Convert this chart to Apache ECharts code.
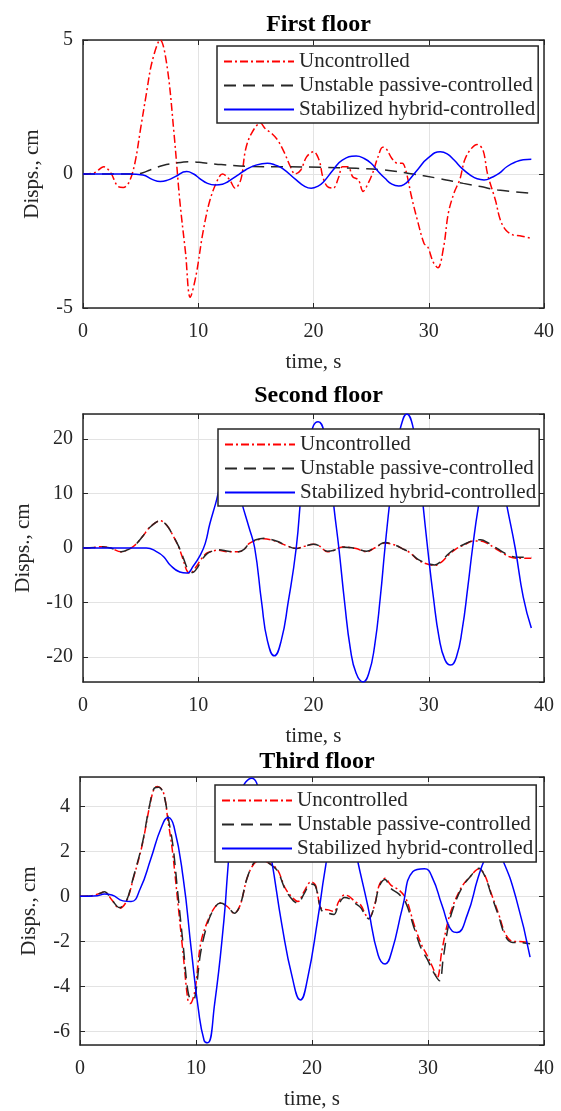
<!DOCTYPE html>
<html>
<head>
<meta charset="utf-8">
<script src="https://cdn.jsdelivr.net/npm/echarts@6/dist/echarts.min.js"></script>
<style>
html,body{margin:0;padding:0;background:#fff;}
#chart{width:561px;height:1111px;}
</style>
</head>
<body>
<div id="chart"></div>
<script>
// ---------- labels ----------
const panelTitles = ['First floor', 'Second floor', 'Third floor'];
const seriesNames = ['Uncontrolled', 'Unstable passive-controlled', 'Stabilized hybrid-controlled'];
const xAxisName = 'time, s';
const yAxisName = 'Disps., cm';
const xTicks = [0, 10, 20, 30, 40];
const yRanges = [[-5, 5], [-24.6, 24.6], [-6.6, 5.3]];

// ---------- First floor [time s, displacement cm] ----------
const f1Uncontrolled = [[0,0],[1,0.05],[1.8,0.27],[2.4,0.05],[3,-0.45],[3.5,-0.5],[4,-0.3],[4.5,0.4],[5,1.7],[5.5,3.0],[6,4.2],[6.7,5.0],[7.3,4.0],[7.9,1.5],[8.4,-1.0],[8.9,-2.95],[9.3,-4.6],[9.8,-3.8],[10.4,-2.2],[11,-1],[11.7,-0.2],[12.1,0],[12.7,-0.2],[13.2,-0.53],[13.7,-0.2],[14.1,0.9],[14.6,1.5],[15.4,1.9],[15.8,1.7],[16.4,1.5],[16.9,1.26],[17.5,0.77],[18,0.27],[18.4,0],[18.9,0.15],[19.4,0.64],[20,0.83],[20.5,0.5],[20.8,-0.1],[21.2,-0.47],[21.7,-0.53],[22.2,-0.1],[22.5,0.27],[23,0.27],[23.4,-0.1],[23.9,-0.22],[24.3,-0.65],[24.6,-0.47],[25.1,0],[25.6,0.64],[26,1.0],[26.3,0.95],[26.8,0.58],[27.3,0.4],[27.7,0.4],[28,0.15],[28.5,-0.84],[29,-1.7],[29.6,-2.6],[29.9,-2.7],[30.4,-3.3],[30.8,-3.5],[31.3,-2.7],[31.7,-1.46],[32.2,-0.7],[32.7,-0.2],[33.1,0.5],[33.6,0.9],[34.2,1.1],[34.7,0.9],[35.1,0],[35.8,-1],[36.2,-1.7],[36.7,-2.1],[37.3,-2.27],[37.9,-2.3],[38.9,-2.4]];
const f1Passive = [[0,0],[4.5,0],[5.2,0.05],[5.8,0.15],[7,0.33],[7.9,0.4],[9.2,0.46],[10.4,0.42],[12,0.35],[14.4,0.28],[17.5,0.27],[20.6,0.25],[23.7,0.21],[26.2,0.15],[28.3,0.02],[30.8,-0.16],[33,-0.35],[34.5,-0.47],[36,-0.6],[38.9,-0.72]];
const f1Hybrid = [[0,0],[4,0],[5.2,-0.04],[6,-0.2],[6.7,-0.28],[7.4,-0.22],[8,-0.1],[9,0.09],[9.6,0],[10.1,-0.16],[10.8,-0.35],[11.5,-0.41],[12.1,-0.38],[12.6,-0.28],[13.4,-0.05],[14.1,0.15],[15,0.33],[16,0.4],[16.7,0.33],[17.3,0.21],[18.5,-0.22],[19.2,-0.45],[19.8,-0.53],[20.4,-0.45],[20.9,-0.28],[21.7,0.15],[22.5,0.52],[23.7,0.67],[24.4,0.58],[25,0.4],[25.6,0.1],[26.2,-0.16],[26.8,-0.38],[27.4,-0.45],[27.9,-0.38],[28.3,-0.22],[29.1,0.2],[29.9,0.58],[31,0.83],[31.6,0.75],[32.2,0.52],[32.9,0.2],[33.6,-0.04],[34.2,-0.18],[34.8,-0.22],[35.5,-0.12],[36.1,0.02],[36.8,0.28],[37.6,0.46],[38.2,0.53],[38.9,0.55]];

// ---------- Second floor ----------
const f2Uncontrolled = [[0,0],[1,0.1],[1.6,0.25],[2.4,0],[3.3,-0.7],[4,-0.2],[4.5,0.5],[5.2,2.2],[5.8,3.8],[6.7,5.0],[7.3,4.1],[7.8,2.3],[8.3,0.2],[8.7,-2.2],[9,-4.1],[9.3,-4.7],[9.8,-3.5],[10.2,-2.2],[10.7,-1],[11.2,-0.6],[11.7,-0.4],[12.6,-0.7],[13.5,-0.7],[14,-0.2],[14.4,0.8],[15,1.4],[15.7,1.7],[16.3,1.5],[16.9,1.1],[17.7,0.4],[18.5,-0.1],[19.2,0.3],[20,0.7],[20.5,0.4],[21.2,-0.7],[21.8,-0.4],[22.5,0.2],[23.1,0.1],[23.7,-0.1],[24.6,-0.7],[25.3,0],[26.2,0.9],[27,0.6],[27.7,-0.1],[28.4,-0.9],[29,-2.1],[29.8,-2.9],[30.5,-3.2],[31.1,-2.6],[31.7,-1.3],[32.4,-0.1],[33,0.5],[33.9,1.3],[34.5,1.3],[35.2,0.7],[35.8,-0.1],[36.4,-0.9],[37,-1.6],[37.8,-1.9],[38.9,-1.9]];
const f2Passive = [[0,0],[1,0.1],[1.6,0.25],[2.4,0],[3.3,-0.7],[4,-0.2],[4.5,0.5],[5.2,2.2],[5.8,3.8],[6.7,5.0],[7.3,4.1],[7.8,2.3],[8.3,0.3],[8.7,-1.8],[9.1,-3.9],[9.5,-4.5],[9.9,-3.7],[10.3,-2.2],[10.8,-1],[11.3,-0.5],[11.8,-0.3],[12.6,-0.6],[13.5,-0.7],[14,-0.2],[14.4,0.8],[15,1.5],[15.7,1.8],[16.3,1.6],[16.9,1.2],[17.7,0.4],[18.5,-0.1],[19.2,0.3],[20,0.7],[20.5,0.4],[21.2,-0.6],[21.8,-0.4],[22.5,0.2],[23.1,0.1],[23.7,-0.1],[24.6,-0.6],[25.3,0],[26.2,1.0],[27,0.6],[27.7,-0.1],[28.4,-0.9],[29,-2.0],[29.8,-2.8],[30.5,-3.1],[31.1,-2.4],[31.7,-1.1],[32.4,0],[33,0.6],[33.9,1.4],[34.5,1.5],[35.2,0.9],[35.8,0.1],[36.4,-0.7],[37,-1.4],[37.8,-1.7],[38.9,-1.7]];
const f2Hybrid = [[0,0],[5.5,0],[6.4,-0.7],[7,-1.6],[7.6,-3.2],[8.4,-4.4],[9,-4.6],[9.6,-3.2],[10.1,-1.6],[10.6,0.8],[11,4.4],[11.5,8.1],[12.1,12.5],[12.7,14],[13.3,12],[13.8,8.1],[14.4,3.8],[14.9,0],[15.5,-10],[16,-17],[16.6,-19.8],[17.2,-17],[17.8,-10],[18.5,0],[19,11.5],[19.5,19],[20,22.5],[20.4,23.2],[20.9,21.5],[21.4,15],[21.8,7],[22.2,0],[22.7,-10],[23.2,-18.5],[23.7,-23],[24.3,-24.6],[24.8,-23],[25.3,-18],[25.8,-9],[26.2,0],[26.7,10],[27.2,18.5],[27.6,22.5],[28.1,24.6],[28.6,22.5],[29.1,16],[29.5,8],[29.9,0],[30.4,-9],[30.9,-16.5],[31.4,-20.5],[31.9,-21.5],[32.4,-20],[32.9,-15],[33.4,-7],[33.8,0],[34.3,7.5],[34.8,13],[35.6,16],[36.3,13],[36.8,7.5],[37.5,0],[38.2,-9],[38.9,-14.7]];

// ---------- Third floor ----------
const f3Uncontrolled = [[0,0],[1,0.03],[1.7,0.13],[2.1,0.2],[2.75,-0.16],[3.4,-0.53],[4,-0.23],[4.6,0.8],[5.35,2.25],[6,4],[6.4,4.8],[6.7,4.88],[7.2,4.6],[7.6,3.3],[7.95,2.1],[8.4,-0.1],[8.9,-2.6],[9.3,-4.6],[9.5,-4.76],[9.9,-4.2],[10.4,-2.1],[11,-1.1],[11.6,-0.5],[12.1,-0.3],[12.7,-0.45],[13.3,-0.75],[13.8,-0.4],[14.4,0.8],[15,1.45],[15.6,1.6],[16.2,1.5],[17,1.2],[17.7,0.35],[18.4,-0.1],[18.8,-0.23],[19.3,0.2],[19.9,0.64],[20.3,0.5],[20.8,-0.53],[21.4,-0.6],[21.9,-0.67],[22.3,-0.23],[22.8,0.06],[23.2,0],[23.7,-0.23],[24.2,-0.38],[24.6,-0.8],[24.9,-0.96],[25.4,-0.38],[25.8,0.5],[26.3,0.8],[26.8,0.5],[27.5,0.28],[28.1,-0.1],[28.8,-1.25],[29.4,-2.1],[30,-2.7],[30.4,-3.15],[30.8,-3.6],[31.2,-2.4],[31.8,-0.96],[32.4,-0.1],[33,0.5],[33.6,0.86],[34.4,1.23],[34.9,0.93],[35.5,0.06],[36.1,-0.8],[36.7,-1.7],[37.3,-2],[37.9,-2],[38.8,-2.05]];
const f3Passive = [[0,0],[1,0.03],[1.7,0.13],[2.1,0.2],[2.75,-0.16],[3.4,-0.5],[4,-0.2],[4.6,0.85],[5.35,2.3],[6,4.05],[6.4,4.8],[6.8,4.85],[7.2,4.55],[7.6,3.5],[8,2.3],[8.4,0.3],[8.9,-2.2],[9.3,-4.2],[9.6,-4.6],[9.9,-4.5],[10.4,-2.5],[11,-1.2],[11.6,-0.5],[12.1,-0.3],[12.7,-0.45],[13.3,-0.75],[13.8,-0.4],[14.4,0.8],[15,1.5],[15.6,1.65],[16.2,1.5],[17,1.15],[17.7,0.3],[18.4,-0.2],[18.8,-0.3],[19.3,0.1],[19.9,0.55],[20.3,0.45],[20.8,-0.6],[21.4,-0.75],[21.9,-0.8],[22.3,-0.35],[22.8,-0.05],[23.2,-0.1],[23.7,-0.3],[24.2,-0.5],[24.6,-0.85],[24.9,-1.0],[25.4,-0.4],[25.8,0.45],[26.3,0.75],[26.8,0.35],[27.5,0.1],[28.1,-0.3],[28.8,-1.4],[29.4,-2.3],[30,-2.85],[30.4,-3.3],[31,-3.75],[31.3,-2.8],[31.8,-1.2],[32.4,-0.2],[33,0.45],[33.6,0.85],[34.4,1.25],[34.9,0.9],[35.5,0],[36.1,-0.9],[36.7,-1.8],[37.3,-2.05],[37.9,-2.05],[38.8,-2.1]];
const f3Hybrid = [[0,0],[1.5,0.03],[2.1,0.1],[2.75,0.06],[3.7,-0.2],[4.4,-0.23],[5.2,0.35],[6.1,1.66],[7,3.05],[7.6,3.5],[8.1,3.1],[8.9,0.8],[9.6,-2.4],[10.2,-5],[10.7,-6.4],[11,-6.5],[11.6,-4.8],[12.4,-1.1],[13,2.5],[13.8,4.6],[14.8,5.25],[15.7,3.8],[16.5,1.66],[17.4,-1.25],[18.3,-3.6],[19,-4.6],[19.6,-3.7],[20.5,-1],[21.1,1.1],[21.8,3.0],[22.6,3.9],[23.3,3.2],[23.9,1.66],[24.8,-0.4],[25.7,-2.6],[26.3,-3],[26.9,-2.4],[27.8,-0.5],[28.7,1.1],[29.7,1.23],[30.4,0.8],[31.2,-0.38],[32.1,-1.55],[32.5,-1.6],[33.4,-0.8],[34.3,0.8],[34.9,1.66],[35.6,2.3],[36.4,1.66],[37.6,-0.1],[38.8,-2.7]];

const panelData = [
  [f1Uncontrolled, f1Passive, f1Hybrid],
  [f2Uncontrolled, f2Passive, f2Hybrid],
  [f3Uncontrolled, f3Passive, f3Hybrid]
];

// ---------- layout / style ----------
const FONT = 'Liberation Serif';
const INK = '#262626';
const grids = [
  {left: 83, top: 40, width: 461, height: 268},
  {left: 83, top: 414, width: 461, height: 268},
  {left: 80, top: 777, width: 464, height: 270}
];
const titleTops = [8, 379, 745];
const legendPos = [[217, 46], [218, 429], [215, 785]];
const yNameGaps = [40, 49, 40];
const lineStyles = [
  {color: '#ff0000', width: 1.5, type: [8, 3, 2, 3]},
  {color: '#262626', width: 1.5, type: [12, 7]},
  {color: '#0000ff', width: 1.5, type: 'solid'}
];
const smoothness = [0.35, 0.35, 0.5];

const option = {
  animation: false,
  backgroundColor: '#ffffff',
  title: panelTitles.map((t, i) => ({
    text: t,
    left: grids[i].left + grids[i].width / 2,
    top: titleTops[i],
    textAlign: 'center',
    textStyle: {fontFamily: FONT, fontWeight: 'bold', fontSize: 24, color: '#000'}
  })),
  grid: grids.map(g => Object.assign({containLabel: false}, g)),
  legend: legendPos.map((p, i) => ({
    data: seriesNames,
    orient: 'vertical',
    left: p[0],
    top: p[1],
    itemWidth: 70,
    itemHeight: 20,
    itemGap: 3,
    padding: [5, 3, 3, 6],
    backgroundColor: '#ffffff',
    borderColor: INK,
    borderWidth: 1.5,
    borderRadius: 0,
    selectedMode: false,
    itemStyle: {color: 'rgba(0,0,0,0)', borderWidth: 0, opacity: 0},
    textStyle: {fontFamily: FONT, fontSize: 21, color: INK, lineHeight: 20}
  })),
  xAxis: [],
  yAxis: [],
  series: []
};

grids.forEach((g, i) => {
  const yr = yRanges[i];
  option.xAxis.push({
    type: 'value', gridIndex: i, min: xTicks[0], max: xTicks[xTicks.length - 1], interval: 10,
    position: 'bottom',
    name: xAxisName, nameLocation: 'middle', nameGap: 44,
    nameTextStyle: {fontFamily: FONT, fontSize: 21, color: INK},
    axisLine: {show: true, onZero: false, lineStyle: {color: INK, width: 1.5}},
    axisTick: {show: true, inside: true, length: 5, lineStyle: {color: INK}},
    axisLabel: {fontFamily: FONT, fontSize: 20, color: INK, margin: 14},
    splitLine: {show: true, lineStyle: {color: '#e3e3e3', width: 1}}
  });
  const yMain = {
    type: 'value', gridIndex: i, min: yr[0], max: yr[1],
    position: 'left',
    name: yAxisName, nameLocation: 'middle', nameGap: yNameGaps[i],
    nameTextStyle: {fontFamily: FONT, fontSize: 21, color: INK},
    axisLine: {show: true, onZero: false, lineStyle: {color: INK, width: 1.5}},
    axisTick: {show: true, inside: true, length: 5, lineStyle: {color: INK}},
    axisLabel: {fontFamily: FONT, fontSize: 20, color: INK, margin: 10},
    splitLine: {show: true, lineStyle: {color: '#e3e3e3', width: 1}}
  };
  if (i === 0) { yMain.interval = 5; }
  else { yMain.axisLabel.showMinLabel = false; yMain.axisLabel.showMaxLabel = false; }
  option.yAxis.push(yMain);
});
grids.forEach((g, i) => {
  const yr = yRanges[i];
  option.xAxis.push({
    type: 'value', gridIndex: i, min: xTicks[0], max: xTicks[xTicks.length - 1], interval: 10,
    position: 'top',
    axisLine: {show: true, onZero: false, lineStyle: {color: INK, width: 1.5}},
    axisTick: {show: true, inside: true, length: 5, lineStyle: {color: INK}},
    axisLabel: {show: false},
    splitLine: {show: false}
  });
  const yMirror = {
    type: 'value', gridIndex: i, min: yr[0], max: yr[1],
    position: 'right',
    axisLine: {show: true, onZero: false, lineStyle: {color: INK, width: 1.5}},
    axisTick: {show: true, inside: true, length: 5, lineStyle: {color: INK}},
    axisLabel: {show: false},
    splitLine: {show: false}
  };
  if (i === 0) yMirror.interval = 5;
  option.yAxis.push(yMirror);
});

panelData.forEach((set, i) => {
  set.forEach((data, k) => {
    option.series.push({
      name: seriesNames[k],
      type: 'line',
      xAxisIndex: i,
      yAxisIndex: i,
      data: data,
      symbol: 'none',
      smooth: smoothness[k],
      clip: true,
      lineStyle: lineStyles[k],
      itemStyle: {color: lineStyles[k].color},
      z: 2
    });
  });
});

const chart = echarts.init(document.getElementById('chart'), null, {renderer: 'canvas'});
chart.setOption(option);
</script>
</body>
</html>
